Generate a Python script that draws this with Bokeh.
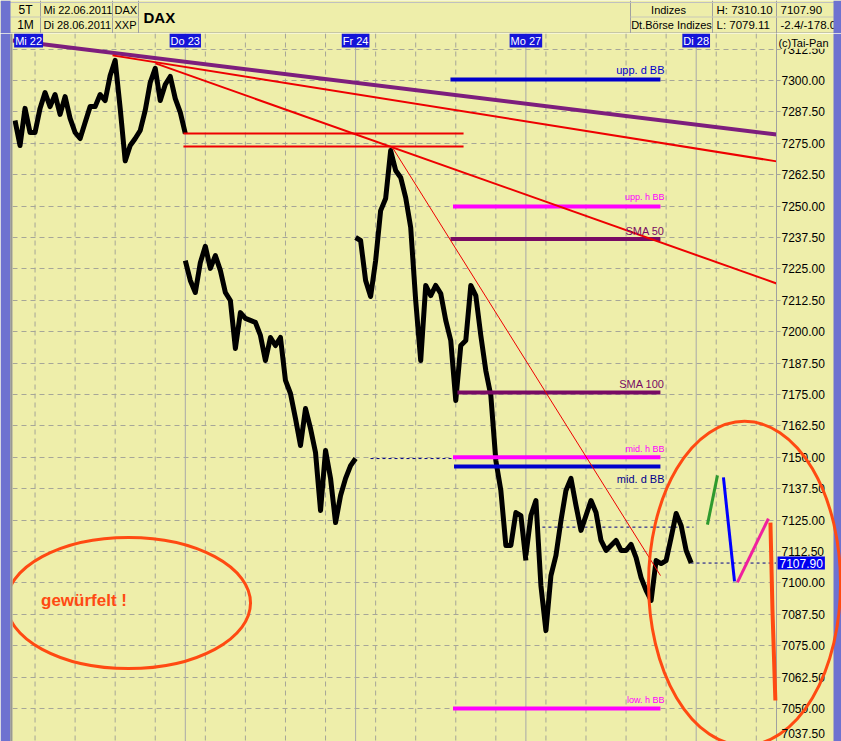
import numpy as np
from bokeh.plotting import figure
from bokeh.layouts import column
from bokeh.models import Range1d, FixedTicker, NumeralTickFormatter, Span, Label
from bokeh.core.properties import value
from bokeh.embed import file_html
from bokeh.resources import INLINE

# ---------------- data ----------------
DAY_NAMES = ["Mi 22", "Do 23", "Fr 24", "Mo 27", "Di 28"]
SAMPLES_PER_DAY = 34          # 15-minute samples, session 9:00 - 17:30

PRICE_MI22 = [7284.1, 7274.1, 7288.9, 7279.3, 7279.3, 7288.9, 7295.2, 7289.6, 7294.4, 7286.5,
              7293.6, 7284.9, 7279.3, 7276.9, 7283.3, 7289.6, 7289.6, 7294.4, 7292.0, 7302.0,
              7308.0, 7288.9, 7268.0, 7274.1, 7276.9, 7280.1, 7288.1, 7299.2, 7304.8, 7292.0,
              7298.4, 7301.6, 7292.8, 7287.3, 7278.9]
PRICE_DO23 = [7228.3, 7220.4, 7215.6, 7227.5, 7234.0, 7225.2, 7230.3, 7224.4, 7215.6, 7212.4,
              7193.3, 7207.6, 7205.3, 7204.5, 7203.7, 7198.5, 7188.5, 7197.7, 7194.5, 7197.7,
              7180.6, 7175.4, 7165.4, 7154.7, 7169.4, 7161.5, 7151.9, 7128.8, 7152.7, 7141.6,
              7124.0, 7134.8, 7141.6, 7146.7, 7149.5]
PRICE_FR24 = [7237.5, 7236.3, 7220.4, 7214.0, 7228.3, 7248.2, 7253.0, 7272.1, 7264.2, 7261.4,
              7253.4, 7241.5, 7212.4, 7188.5, 7218.4, 7214.4, 7218.4, 7215.2, 7204.5, 7196.5,
              7172.6, 7194.5, 7196.5, 7218.4, 7214.4, 7198.5, 7184.5, 7174.6, 7148.7, 7136.8,
              7114.9, 7114.9, 7128.0, 7126.8, 7108.9]
PRICE_MO27 = [7110.9, 7126.8, 7132.8, 7098.9, 7081.0, 7102.9, 7110.9, 7124.8, 7136.8, 7141.6,
              7130.8, 7120.9, 7126.8, 7132.8, 7128.0, 7116.9, 7112.9, 7114.9, 7116.9, 7112.9,
              7112.9, 7115.3, 7110.1, 7102.1, 7097.0, 7093.0, 7108.9, 7107.7, 7108.9, 7118.1,
              7127.6, 7122.8, 7112.9, 7107.9]
LAST_PRICE = 7107.90

Y_TICKS = [7050.0, 7062.5, 7075.0, 7087.5, 7100.0, 7112.5, 7125.0, 7137.5, 7150.0,
           7162.5, 7175.0, 7187.5, 7200.0, 7212.5, 7225.0, 7237.5, 7250.0, 7262.5, 7275.0,
           7287.5, 7300.0, 7312.5]
BOTTOM_TICK_TEXT = "7037.50"   # lowest label, lifted inside the window as in the original

# trend lines: (day positions, prices)
PURPLE_TREND_X, PURPLE_TREND_Y = [-0.015, 4.472], [7315.9, 7278.5]
RED_TREND_A_X, RED_TREND_A_Y = [0.5725, 4.472], [7310.0, 7267.8]
RED_TREND_B_X, RED_TREND_B_Y = [0.825, 4.472], [7306.8, 7219.2]
RED_TREND_C_X, RED_TREND_C_Y = [2.2167, 3.7904], [7273.3, 7102.9]
RED_LEVELS = [7278.9, 7273.7]
RED_LEVEL_FROM, RED_LEVEL_TO = 0.989, 2.634

# indicator levels
IND_NAMES = ["upp. d BB", "upp. h BB", "SMA 50", "SMA 100", "mid. h BB", "mid. d BB", "low. h BB"]
IND_LEVELS = [7300.4, 7249.8, 7236.9, 7175.8, 7150.0, 7146.3, 7050.0]

# previous-close dashed lines: start day, end day, price
PREV_FROM = [0.989, 2.0876, 3.097, 3.967]
PREV_TO = [2.005, 2.5866, 3.984, 4.48]
PREV_LEVEL = [7278.9, 7149.5, 7122.2, 7107.9]

# hand-drawn forecast strokes
GREEN_X, GREEN_Y = [4.066, 4.125], [7123.2, 7142.8]
BLUE_X, BLUE_Y = [4.160, 4.225], [7142.0, 7100.6]
PINK_X, PINK_Y = [4.242, 4.424], [7100.2, 7125.6]
ORANGE_X, ORANGE_Y = [4.436, 4.448, 4.465], [7124.0, 7089.0, 7053.2]

# ---------------- styles / geometry ----------------
BG = "#EEEEAA"
GRID = "#A6A698"
NAVY = "#000088"
PURPLE = "#7D1E7D"
SMA_COL = "#780A64"
MAGENTA = "#FF00FF"
BLUE = "#0000CC"
RED = "#EE0000"
ORANGE = "#FF4A12"
STRIP = "#6E72D0"
FONT = "Liberation Sans"

W, H_MAIN, H_HEAD = 841, 708, 33
BORDER_L, BORDER_R = 12, 65
X0, X1 = -0.0147, 4.4716
Y0, Y1 = 7036.86, 7318.71
PX_PER_DAY = (W - BORDER_L - BORDER_R) / (X1 - X0)

p = figure(width=W, height=H_MAIN, x_range=Range1d(X0, X1), y_range=Range1d(Y0, Y1),
           output_backend="svg", toolbar_location=None, x_axis_location=None,
           y_axis_location="right", background_fill_color=BG, border_fill_color=BG,
           min_border_left=BORDER_L, min_border_right=BORDER_R, min_border_top=0,
           min_border_bottom=0, outline_line_color=None)
p.frame_align = False
p.xgrid.visible = False
p.ygrid.grid_line_color = GRID
p.ygrid.grid_line_dash = "5 4"
p.yaxis.ticker = FixedTicker(ticks=Y_TICKS)
p.yaxis.formatter = NumeralTickFormatter(format="0.00")
p.yaxis.major_label_text_font = FONT
p.yaxis.major_label_text_font_size = "12px"
p.yaxis.major_label_text_color = "black"
p.yaxis.axis_line_color = "#A0A0A0"
p.yaxis.major_tick_line_color = GRID
p.yaxis.major_tick_in = 0
p.yaxis.major_tick_out = 4
p.yaxis.major_label_standoff = 1
p.yaxis.minor_tick_line_color = None

# vertical grid: day boundaries solid, 10/12/14/16 h dashed
for d in range(5):
    if d > 0:
        p.add_layout(Span(location=d, dimension="height", line_color="#A8A8A8",
                          line_width=1, level="underlay"))
    for hour in (10, 12, 14, 16):
        loc = d + (hour - 9) / 8.5
        if loc < X1:
            p.add_layout(Span(location=loc, dimension="height", line_color=GRID,
                              line_dash="5 4", line_width=1, level="underlay"))

# previous close dashed lines
p.segment(x0=PREV_FROM, y0=PREV_LEVEL, x1=PREV_TO, y1=PREV_LEVEL, line_color=NAVY,
          line_width=1, line_dash="3 3")

# price trace
for d, prices in enumerate([PRICE_MI22, PRICE_DO23, PRICE_FR24, PRICE_MO27]):
    xs = [d + i / SAMPLES_PER_DAY for i in range(len(prices))]
    p.line(xs, prices, line_color="black", line_width=5, line_join="round")

# red horizontal levels
p.segment(x0=[RED_LEVEL_FROM] * 2, y0=RED_LEVELS, x1=[RED_LEVEL_TO] * 2, y1=RED_LEVELS,
          line_color=RED, line_width=2)

# indicator lines
IND_COLORS = [BLUE, MAGENTA, SMA_COL, SMA_COL, MAGENTA, BLUE, MAGENTA]
IND_FROM = [2.557, 2.572, 2.557, 2.598, 2.572, 2.578, 2.572]
IND_TO = 3.79
p.segment(x0=IND_FROM, y0=IND_LEVELS, x1=[IND_TO] * len(IND_LEVELS), y1=IND_LEVELS,
          line_color=IND_COLORS, line_width=4)
IND_LABEL_OFF = [9, 10, 8, 8, 8.5, -12.5, 8]
IND_LABEL_SIZE = ["11px", "9px", "11px", "11px", "9px", "11px", "9px"]
IND_LABEL_COL = [BLUE, MAGENTA, SMA_COL, SMA_COL, MAGENTA, "#00008C", MAGENTA]
for name, lvl, off, sz, col in zip(IND_NAMES, IND_LEVELS, IND_LABEL_OFF, IND_LABEL_SIZE, IND_LABEL_COL):
    p.add_layout(Label(x=3.814, y=lvl, y_offset=off, text=name, text_align="right",
                       text_baseline="middle", text_font=FONT, text_font_size=sz,
                       text_color=col))

# trend lines
p.line(PURPLE_TREND_X, PURPLE_TREND_Y, line_color=PURPLE, line_width=4)
p.line(RED_TREND_A_X, RED_TREND_A_Y, line_color=RED, line_width=2)
p.line(RED_TREND_B_X, RED_TREND_B_Y, line_color=RED, line_width=2)
p.line(RED_TREND_C_X, RED_TREND_C_Y, line_color=RED, line_width=1)

# left ellipse with text
p.ellipse(x=[0.6665], y=[7092.0], width=[1.4328], height=[52.15], fill_color=None,
          line_color=ORANGE, line_width=3)
p.add_layout(Label(x=0.405, y=7093.0, text="gewürfelt !", text_align="center",
                   text_baseline="middle", text_font=FONT, text_font_size="17px",
                   text_font_style="bold", text_color=ORANGE))

# date labels at top
for i, name in enumerate(DAY_NAMES):
    p.add_layout(Label(x=(-0.005 if i == 0 else i), y=7315.9, text=name,
                       text_align=("left" if i == 0 else "center"), text_baseline="middle",
                       text_color="white", text_font=FONT, text_font_size="11px",
                       background_fill_color="#1414D8", padding=1))

# ---------------- transparent overlay spanning the plot and its axis ----------------
OX0 = X0 - BORDER_L / PX_PER_DAY
OX1 = X0 + (W - BORDER_L) / PX_PER_DAY
ov = figure(width=W, height=H_MAIN, x_range=Range1d(OX0, OX1), y_range=p.y_range,
            output_backend="svg", toolbar_location=None, x_axis_location=None,
            y_axis_location=None, background_fill_alpha=0, border_fill_alpha=0,
            min_border=0, outline_line_color=None, margin=(-H_MAIN, 0, 0, 0))
ov.frame_align = False
ov.xgrid.visible = False
ov.ygrid.visible = False

# window frame strips
ov.quad(left=[OX0, X0 + (W - BORDER_L - 8) / PX_PER_DAY], right=[X0 - 2 / PX_PER_DAY, OX1],
        bottom=[Y0, Y0], top=[Y1, Y1], fill_color=STRIP, line_color=None)
ov.quad(left=[X0 - 2 / PX_PER_DAY], right=[X0], bottom=[Y0], top=[Y1],
        fill_color="#9A9A90", line_color=None)

# hand-drawn strokes
ov.line(GREEN_X, GREEN_Y, line_color="#2E9A2E", line_width=3)
ov.line(BLUE_X, BLUE_Y, line_color="#0000FF", line_width=3)
ov.line(PINK_X, PINK_Y, line_color="#F0209E", line_width=3)
ov.line(ORANGE_X, ORANGE_Y, line_color=ORANGE, line_width=4)

# right ellipse
ov.ellipse(x=[4.284], y=[7099.8], width=[1.1274], height=[129.0], fill_color=None,
           line_color=ORANGE, line_width=3)

# last price marker, bottom tick text and copyright over the axis
ov.add_layout(Label(x=4.4775, y=LAST_PRICE, text="%.2f" % LAST_PRICE,
                    text_align="left", text_baseline="middle", text_color="white",
                    text_font=FONT, text_font_size="12px", background_fill_color="#0000F0",
                    padding=2))
ov.add_layout(Label(x=4.4775, x_offset=4, y=Y0, y_offset=8, text=BOTTOM_TICK_TEXT,
                    text_align="left", text_baseline="middle", text_color="black",
                    text_font=FONT, text_font_size="12px"))
ov.add_layout(Label(x=4.483, y=7315.0, text="(c)Tai-Pan", text_align="left",
                    text_baseline="middle", text_color="black", text_font=FONT,
                    text_font_size="11px", background_fill_color=BG, padding=0))

# ---------------- header ----------------
h = figure(width=W, height=H_HEAD, x_range=Range1d(0, W), y_range=Range1d(0, H_HEAD),
           output_backend="svg", toolbar_location=None, x_axis_location=None,
           y_axis_location=None, background_fill_color=BG, border_fill_color=BG,
           min_border=0, outline_line_color=None)
h.frame_align = False
h.xgrid.visible = False
h.ygrid.visible = False
vx = [40, 112, 138, 630, 712, 776]
h.segment(x0=vx, y0=[0] * 6, x1=vx, y1=[H_HEAD] * 6, line_color="#A0A0A0")
h.segment(x0=[10, 630], y0=[16.5, 16.5], x1=[138, 833], y1=[16.5, 16.5], line_color="#C8C8B8")
h.segment(x0=[0], y0=[0.5], x1=[W], y1=[0.5], line_color="#A0A0A0")
h.segment(x0=[0], y0=[31], x1=[W], y1=[31], line_color="#C0C0C0")

def htext(xs, ys, texts, align="left", size="11px", style="normal"):
    h.text(x=xs, y=ys, text=texts, text_align=align, text_baseline="middle",
           text_font=value(FONT), text_font_size=size, text_font_style=style,
           text_color="black")

htext([25, 25], [23.5, 8.5], ["5T", "1M"], align="center", size="12px")
htext([43, 43], [23.5, 8.5], ["Mi 22.06.2011", "Di 28.06.2011"])
htext([114, 114], [23.5, 8.5], ["DAX", "XXP"])
htext([143], [16.5], ["DAX"], size="15px", style="bold")
htext([668, 671], [23.5, 8.5], ["Indizes", "Dt.Börse Indizes"], align="center")
htext([716, 716], [23.5, 8.5], ["H: 7310.10", "L: 7079.11"], size="11.5px")
htext([780, 780], [23.5, 8.5], ["7107.90", "-2.4/-178.0"], size="11.5px")
h.quad(left=[0, W - 8], right=[10, W], bottom=[0, 0], top=[H_HEAD, H_HEAD],
       fill_color=STRIP, line_color=None)

layout = column(h, p, ov)
open("out.html", "w").write(file_html(layout, INLINE))
